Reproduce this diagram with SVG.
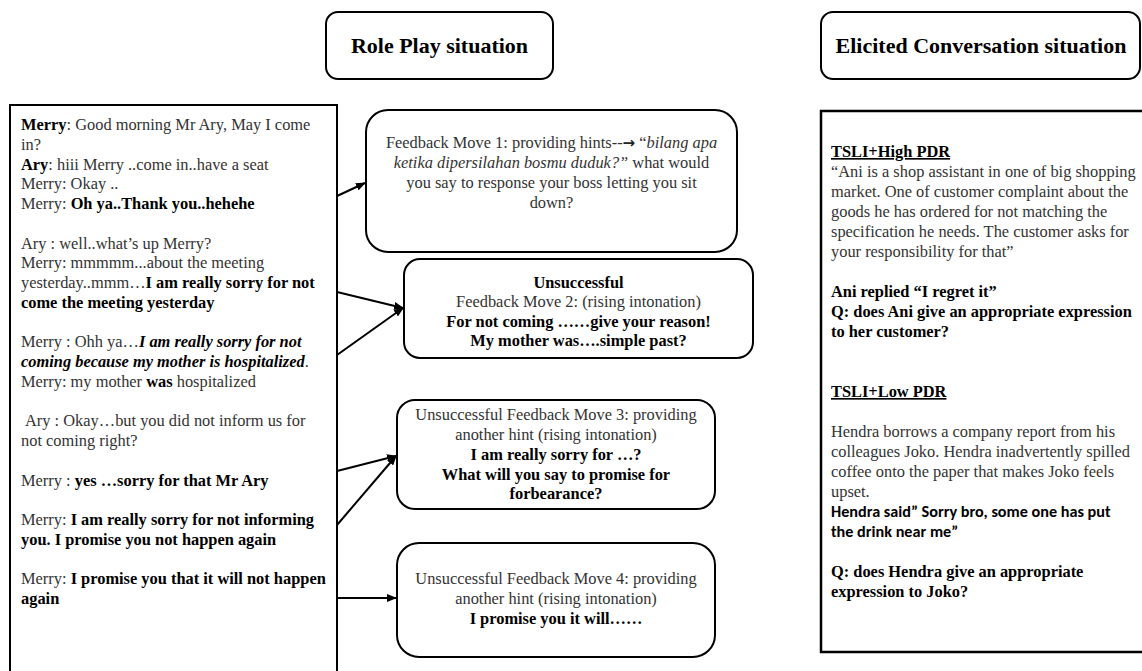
<svg xmlns="http://www.w3.org/2000/svg" width="1142" height="671" viewBox="0 0 1142 671">
<style>
.box{fill:#fff;stroke:#000;stroke-width:2}
.t{font-family:"Liberation Serif","Times New Roman",serif;font-size:16.4px;fill:#333}
.c{text-anchor:middle}
.b{font-weight:bold;fill:#000}
.i{font-style:italic}
.sym{font-family:"DejaVu Sans",sans-serif;font-size:15px;font-weight:bold;fill:#222}
.title{font-family:"Liberation Serif","Times New Roman",serif;font-size:22px;font-weight:bold;fill:#000;text-anchor:middle}
.cal{font-family:Carlito,Lato,"Liberation Sans",sans-serif;font-size:16.2px;font-weight:bold;fill:#000}
.u{text-decoration:underline}
.conn{stroke:#000;stroke-width:2;fill:none;marker-end:url(#ah)}
</style>
<defs>
<marker id="ah" markerUnits="userSpaceOnUse" markerWidth="10" markerHeight="8" refX="9" refY="4" orient="auto">
<path d="M0,0 L10,4 L0,8 z" fill="#000"/>
</marker>
</defs>
<rect width="1142" height="671" fill="#fff"/>

<g id="title-roleplay">
<rect class="box" x="326" y="12" width="227" height="67" rx="12"/>
<text class="title" x="439.5" y="53">Role Play situation</text>
</g>

<g id="title-elicited">
<rect class="box" x="821" y="12" width="319" height="67" rx="12"/>
<text class="title" x="981" y="53">Elicited Conversation situation</text>
</g>

<g id="dialogue">
<rect class="box" x="10" y="105" width="327" height="600"/>
<text class="t" x="21" y="130"><tspan class="b">Merry</tspan>: Good morning Mr Ary, May I come</text>
<text class="t" x="21" y="149.75">in?</text>
<text class="t" x="21" y="169.5"><tspan class="b">Ary</tspan>: hiii Merry ..come in..have a seat</text>
<text class="t" x="21" y="189.25">Merry: Okay ..</text>
<text class="t" x="21" y="209">Merry: <tspan class="b">Oh ya..Thank you..hehehe</tspan></text>
<text class="t" x="21" y="248.5">Ary : well..what’s up Merry?</text>
<text class="t" x="21" y="268.25">Merry: mmmmm...about the meeting</text>
<text class="t" x="21" y="288">yesterday..mmm…<tspan class="b">I am really sorry for not</tspan></text>
<text class="t b" x="21" y="307.75">come the meeting yesterday</text>
<text class="t" x="21" y="347.25">Merry : Ohh ya…<tspan class="b i">I am really sorry for not</tspan></text>
<text class="t" x="21" y="367"><tspan class="b i">coming because my mother is hospitalized</tspan>.</text>
<text class="t" x="21" y="386.75">Merry: my mother <tspan class="b">was</tspan> hospitalized</text>
<text class="t" x="25" y="426.25">Ary : Okay…but you did not inform us for</text>
<text class="t" x="21" y="446">not coming right?</text>
<text class="t" x="21" y="485.5">Merry : <tspan class="b">yes …sorry for that Mr Ary</tspan></text>
<text class="t" x="21" y="525">Merry: <tspan class="b">I am really sorry for not informing</tspan></text>
<text class="t b" x="21" y="544.75">you. I promise you not happen again</text>
<text class="t" x="21" y="584.25">Merry: <tspan class="b">I promise you that it will not happen</tspan></text>
<text class="t b" x="21" y="604">again</text>
</g>

<g id="feedback1">
<rect class="box" x="366" y="110" width="371" height="142" rx="22"/>
<text class="t c" x="551.5" y="148">Feedback Move 1: providing hints--<tspan class="sym">→</tspan> “<tspan class="i">bilang apa</tspan></text>
<text class="t c" x="551.5" y="168"><tspan class="i">ketika dipersilahan bosmu duduk?”</tspan> what would</text>
<text class="t c" x="551.5" y="188">you say to response your boss letting you sit</text>
<text class="t c" x="551.5" y="208">down?</text>
</g>

<g id="feedback2">
<rect class="box" x="404" y="259" width="349" height="99" rx="16"/>
<text class="t c b" x="578.5" y="288">Unsuccessful</text>
<text class="t c" x="578.5" y="307">Feedback Move 2: (rising intonation)</text>
<text class="t c b" x="578.5" y="327">For not coming ……give your reason!</text>
<text class="t c b" x="578.5" y="346">My mother was….simple past?</text>
</g>

<g id="feedback3">
<rect class="box" x="397" y="400" width="318" height="109" rx="18"/>
<text class="t c" x="556" y="420">Unsuccessful Feedback Move 3: providing</text>
<text class="t c" x="556" y="440">another hint (rising intonation)</text>
<text class="t c b" x="556" y="460">I am really sorry for …?</text>
<text class="t c b" x="556" y="480">What will you say to promise for</text>
<text class="t c b" x="556" y="499">forbearance?</text>
</g>

<g id="feedback4">
<rect class="box" x="397" y="543" width="318" height="114" rx="22"/>
<text class="t c" x="556" y="584">Unsuccessful Feedback Move 4: providing</text>
<text class="t c" x="556" y="604">another hint (rising intonation)</text>
<text class="t c b" x="556" y="624">I promise you it will……</text>
</g>

<g id="elicited">
<rect class="box" x="821" y="111" width="325" height="541" style="stroke-width:2.5"/>
<text class="t b u" x="831" y="157">TSLI+High PDR</text>
<text class="t" x="831" y="177">“Ani is a shop assistant in one of big shopping</text>
<text class="t" x="831" y="197">market. One of customer complaint about the</text>
<text class="t" x="831" y="217">goods he has ordered for not matching the</text>
<text class="t" x="831" y="237">specification he needs. The customer asks for</text>
<text class="t" x="831" y="257">your responsibility for that”</text>
<text class="t b" x="831" y="297">Ani replied “I regret it”</text>
<text class="t b" x="831" y="317">Q: does Ani give an appropriate expression</text>
<text class="t b" x="831" y="337">to her customer?</text>
<text class="t b u" x="831" y="397">TSLI+Low PDR</text>
<text class="t" x="831" y="437">Hendra borrows a company report from his</text>
<text class="t" x="831" y="457">colleagues Joko. Hendra inadvertently spilled</text>
<text class="t" x="831" y="477">coffee onto the paper that makes Joko feels</text>
<text class="t" x="831" y="497">upset.</text>
<text class="cal" x="831" y="517">Hendra said” Sorry bro, some one has put</text>
<text class="cal" x="831" y="537">the drink near me”</text>
<text class="t b" x="831" y="577">Q: does Hendra give an appropriate</text>
<text class="t b" x="831" y="597">expression to Joko?</text>
</g>

<g id="connectors">
<line class="conn" x1="337" y1="196" x2="365" y2="183"/>
<line class="conn" x1="337" y1="292" x2="403" y2="308"/>
<line class="conn" x1="337" y1="355" x2="403" y2="308"/>
<line class="conn" x1="337" y1="471" x2="396" y2="456"/>
<line class="conn" x1="337" y1="525" x2="396" y2="456"/>
<line class="conn" x1="337" y1="598" x2="396" y2="598"/>
</g>
</svg>
